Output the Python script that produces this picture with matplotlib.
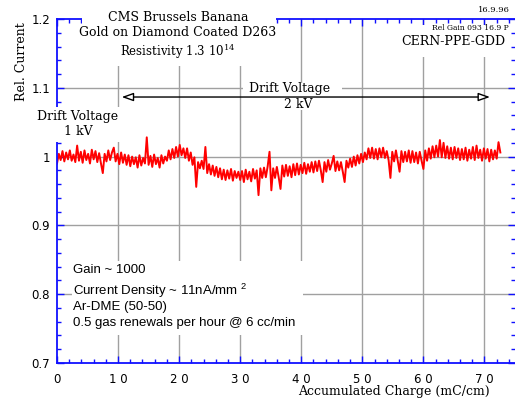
import numpy as np
import matplotlib
matplotlib.use('Agg')
import matplotlib.pyplot as plt
from matplotlib.patches import Rectangle
from matplotlib.ticker import MultipleLocator, FixedLocator

charge_step = 0.3
rel_current = [
    0.990, 1.004, 0.995, 1.008, 0.993, 1.006, 0.996, 1.009, 0.994, 1.003,
    0.992, 1.016, 0.994, 1.007, 0.991, 1.009, 0.995, 1.004, 0.990, 1.010,
    0.996, 1.008, 0.992, 1.005, 0.990, 0.976, 1.004, 0.993, 1.009, 0.995,
    1.006, 1.013, 0.993, 1.004, 0.989, 1.006, 0.991, 1.003, 0.988, 1.002,
    0.986, 1.000, 0.989, 0.999, 0.984, 1.002, 0.987, 0.998, 0.990, 1.028,
    0.988, 1.001, 0.985, 1.003, 0.989, 0.998, 0.984, 1.002, 0.990, 1.000,
    0.994, 1.009, 0.996, 1.011, 0.998, 1.014, 1.000, 1.017, 1.002, 1.012,
    0.998, 1.012, 0.994, 1.006, 0.988, 0.999, 0.956, 0.992, 0.983, 0.994,
    0.982, 1.014, 0.976, 0.989, 0.974, 0.987, 0.972, 0.985, 0.970, 0.983,
    0.967, 0.981, 0.966, 0.980, 0.968, 0.982, 0.965, 0.979, 0.969, 0.978,
    0.966, 0.979, 0.963, 0.981, 0.967, 0.978, 0.964, 0.982, 0.968, 0.980,
    0.944, 0.983, 0.969, 0.984, 0.970, 0.986, 1.007, 0.951, 0.983, 0.969,
    0.985, 0.970, 0.953, 0.987, 0.971, 0.988, 0.972, 0.986, 0.970, 0.989,
    0.973, 0.990, 0.974, 0.988, 0.976, 0.991, 0.975, 0.989, 0.978, 0.992,
    0.977, 0.993, 0.979, 0.994, 0.980, 0.963, 0.992, 0.978, 0.995, 0.981,
    0.990, 1.001, 0.979, 0.993, 0.980, 0.992, 0.978, 0.963, 0.994, 0.984,
    0.997, 0.985, 1.000, 0.987, 1.002, 0.990, 1.004, 0.992, 1.006, 0.996,
    1.012, 0.998, 1.013, 0.997, 1.011, 0.996, 1.012, 0.999, 1.013, 0.998,
    1.008, 0.995, 0.969, 1.007, 0.993, 1.009, 0.994, 0.978, 1.008, 0.992,
    1.007, 0.993, 1.009, 0.991, 1.008, 0.992, 1.006, 0.990, 1.007, 0.994,
    0.982, 1.009, 0.994, 1.012, 0.997, 1.015, 0.999, 1.016, 1.000, 1.024,
    0.999, 1.020, 0.998, 1.015, 0.997, 1.013, 0.996, 1.014, 0.998, 1.012,
    0.995, 1.011, 0.996, 1.013, 0.994, 1.010, 0.997, 1.014, 0.995, 1.016,
    0.998, 1.010, 0.994, 1.012, 0.997, 1.011, 0.993, 1.010, 0.996, 1.009,
    0.997, 1.021, 1.006,
]
charge = np.arange(len(rel_current)) * charge_step

x_ticks = [0, 10, 20, 30, 40, 50, 60, 70]
x_labels = ['0', '1 0', '2 0', '3 0', '4 0', '5 0', '6 0', '7 0']
y_ticks = [0.7, 0.8, 0.9, 1.0, 1.1, 1.2]
y_labels = ['0.7', '0.8', '0.9', '1', '1.1', '1.2']

serif = 'DejaVu Serif'
sans = 'Liberation Sans'
blue = '#1010ff'
grid_c = '#a0a0a0'

fig = plt.figure(figsize=(5.15, 4.03), dpi=100)
ax = fig.add_axes([57 / 515, 40 / 403, 458 / 515, 344 / 403])
ax.set_xlim(0, 75)
ax.set_ylim(0.7, 1.2)

ax.plot(charge, rel_current, color='#ff0000', lw=1.4, zorder=2)

for xv in x_ticks[1:]:
    ax.axvline(xv, color=grid_c, lw=1, zorder=1)
for yv in y_ticks[1:-1]:
    ax.axhline(yv, color=grid_c, lw=1, zorder=1)

for s in ['left', 'bottom', 'top']:
    ax.spines[s].set_color(blue)
    ax.spines[s].set_linewidth(1.3)
ax.spines['right'].set_visible(False)

ax.xaxis.set_major_locator(FixedLocator(x_ticks))
ax.xaxis.set_minor_locator(MultipleLocator(2))
ax.yaxis.set_major_locator(FixedLocator(y_ticks))
ax.yaxis.set_minor_locator(MultipleLocator(0.02))
ax.set_xticklabels(x_labels, fontfamily='DejaVu Sans', fontsize=8.5)
ax.set_yticklabels(y_labels, fontfamily='DejaVu Sans', fontsize=8.5)
ax.tick_params(which='both', direction='in', color=blue, top=True, right=True, width=1)
ax.tick_params(which='major', length=5)
ax.tick_params(which='minor', length=3)
ax.tick_params(axis='x', which='major', pad=7)
ax.tick_params(axis='y', which='major', pad=5)


def whiteout(x0, x1, y0, y1):
    ax.add_patch(Rectangle((x0, y0), x1 - x0, y1 - y0, facecolor='white',
                           edgecolor='none', zorder=2.7, clip_on=False))


whiteout(4.1, 35.9, 1.1317, 1.23)
whiteout(56.2, 73.8, 1.1448, 1.192)
whiteout(-3.6, 10.25, 1.0212, 1.0721)
whiteout(30.4, 46.7, 1.0677, 1.107)
whiteout(2.46, 40.25, 0.7407, 0.8483)

tkw = dict(zorder=4, clip_on=False)
ax.text(19.8, 1.2029, 'CMS Brussels Banana', family=serif, fontsize=9,
        ha='center', va='center', **tkw)
ax.text(19.8, 1.1797, 'Gold on Diamond Coated D263', family=serif, fontsize=9,
        ha='center', va='center', **tkw)
ax.text(19.8, 1.152, r'Resistivity 1.3 $\mathregular{10^{14}}$', family=serif,
        fontsize=8.5, ha='center', va='center', **tkw)
ax.text(74.2, 1.213, '16.9.96', family=serif, fontsize=6, ha='right',
        va='center', **tkw)
ax.text(74.0, 1.187, 'Rel Gain 093 16.9 P', family=serif, fontsize=5.5,
        ha='right', va='center', **tkw)
ax.text(73.4, 1.1666, 'CERN-PPE-GDD', family=serif, fontsize=9, ha='right',
        va='center', **tkw)

ax.text(3.44, 1.059, 'Drift Voltage', family=serif, fontsize=9, ha='center',
        va='center', **tkw)
ax.text(3.44, 1.0372, '1 kV', family=serif, fontsize=9, ha='center',
        va='center', **tkw)
ax.text(38.15, 1.0983, 'Drift Voltage', family=serif, fontsize=9, ha='center',
        va='center', **tkw)
ax.text(39.5, 1.075, '2 kV', family=serif, fontsize=9, ha='center',
        va='center', **tkw)

ax.annotate('', xy=(70.9, 1.0866), xytext=(10.6, 1.0866),
            arrowprops=dict(arrowstyle='<|-|>,head_length=0.7,head_width=0.25',
                            facecolor='white', edgecolor='black', lw=1,
                            shrinkA=0, shrinkB=0), zorder=5)

ax.text(2.62, 0.8352, 'Gain ~ 1000', family=sans, fontsize=9.5, ha='left',
        va='center', **tkw)
ax.text(2.62, 0.8047, r'Current Density ~ 11nA/mm $\mathregular{^2}$', family=sans,
        fontsize=9.5, ha='left', va='center', **tkw)
ax.text(2.62, 0.7814, 'Ar-DME (50-50)', family=sans, fontsize=9.5, ha='left',
        va='center', **tkw)
ax.text(2.62, 0.7581, '0.5 gas renewals per hour @ 6 cc/min', family=sans,
        fontsize=9.5, ha='left', va='center', **tkw)

ax.text(-0.077, 0.875, 'Rel. Current', family=serif, fontsize=9, rotation=90,
        ha='center', va='center', transform=ax.transAxes)
ax.text(0.736, -0.084, 'Accumulated Charge (mC/cm)', family=serif, fontsize=9,
        ha='center', va='center', transform=ax.transAxes)

fig.savefig('out.png', dpi=100)
